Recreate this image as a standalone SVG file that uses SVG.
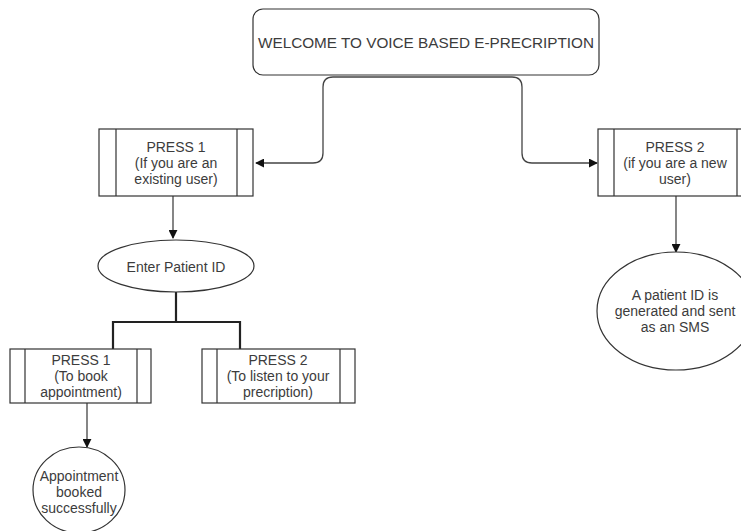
<svg xmlns="http://www.w3.org/2000/svg" width="741" height="531" viewBox="0 0 741 531">
<defs>
<marker id="arr" viewBox="0 0 10 10" refX="9" refY="5" markerWidth="9" markerHeight="9" markerUnits="userSpaceOnUse" orient="auto">
<path d="M0,0 L10,5 L0,10 Z" fill="#111"/>
</marker>
<style>
.box{fill:#fff;stroke:#333;stroke-width:1.2}
.t{font-family:"Liberation Sans",Arial,sans-serif;font-size:14px;fill:#3c3c3c;text-anchor:middle}
.c{fill:none;stroke:#444;stroke-width:1.3}
.tr{fill:none;stroke:#222;stroke-width:2.2}
</style>
</defs>
<rect width="741" height="531" fill="#fff"/>
<g id="connectors">
<path class="c" d="M426,77 H333 Q323,77 323,87 V153 Q323,163 313,163 H256" marker-end="url(#arr)"/>
<path class="c" d="M426,77 H512 Q522,77 522,87 V153 Q522,163 532,163 H597" marker-end="url(#arr)"/>
<path class="c" d="M173,196 V238" marker-end="url(#arr)"/>
<path class="c" d="M676,196 V252" marker-end="url(#arr)"/>
<path class="tr" d="M176,292 V322 M113,322 H240 M113,321 V349 M240,321 V349"/>
<path class="c" d="M87,403 V447" marker-end="url(#arr)"/>
</g>
<g id="title">
<rect class="box" x="253" y="9" width="346" height="66" rx="10"/>
<text class="t" x="426" y="48" style="font-size:15.3px">WELCOME TO VOICE BASED E-PRECRIPTION</text>
</g>
<g id="press1-existing">
<rect class="box" x="99" y="129" width="154" height="67"/>
<path class="box" d="M116,129 V196 M237,129 V196"/>
<text class="t" x="176" y="152">PRESS 1</text>
<text class="t" x="176" y="168">(If you are an</text>
<text class="t" x="176" y="184">existing user)</text>
</g>
<g id="press2-new">
<rect class="box" x="598" y="129" width="155" height="67"/>
<path class="box" d="M614,129 V196 M737,129 V196"/>
<text class="t" x="675" y="152">PRESS 2</text>
<text class="t" x="675" y="168">(if you are a new</text>
<text class="t" x="675" y="184">user)</text>
</g>
<g id="enter-id">
<ellipse class="box" cx="176" cy="266" rx="78" ry="26"/>
<text class="t" x="176" y="272">Enter Patient ID</text>
</g>
<g id="new-id">
<ellipse class="box" cx="676" cy="311" rx="79" ry="59"/>
<text class="t" x="675" y="300">A patient ID is</text>
<text class="t" x="675" y="316">generated and sent</text>
<text class="t" x="675" y="332">as an SMS</text>
</g>
<g id="press1-book">
<rect class="box" x="10" y="349" width="141" height="54"/>
<path class="box" d="M25,349 V403 M137,349 V403"/>
<text class="t" x="81" y="365">PRESS 1</text>
<text class="t" x="81" y="381">(To book</text>
<text class="t" x="81" y="397">appointment)</text>
</g>
<g id="press2-listen">
<rect class="box" x="202" y="349" width="153" height="54"/>
<path class="box" d="M217,349 V403 M340,349 V403"/>
<text class="t" x="278" y="365">PRESS 2</text>
<text class="t" x="278" y="381">(To listen to your</text>
<text class="t" x="278" y="397">precription)</text>
</g>
<g id="booked">
<ellipse class="box" cx="79" cy="490" rx="46" ry="43"/>
<text class="t" x="79" y="481">Appointment</text>
<text class="t" x="79" y="497">booked</text>
<text class="t" x="79" y="513">successfully</text>
</g>
</svg>
